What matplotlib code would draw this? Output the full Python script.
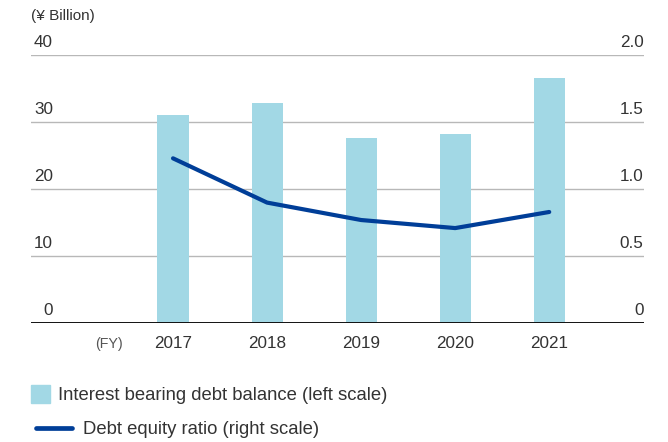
import matplotlib
matplotlib.use("Agg")
import matplotlib.pyplot as plt
from matplotlib.patches import Rectangle
from matplotlib.lines import Line2D
from matplotlib.transforms import ScaledTranslation

plt.rcParams["font.family"] = ["Liberation Sans", "DejaVu Sans"]

YEARS = ["2017", "2018", "2019", "2020", "2021"]
DEBT_BALANCE = [31.0, 32.8, 27.6, 28.2, 36.6]   # ¥ billion, left scale
DE_RATIO = [1.23, 0.90, 0.77, 0.71, 0.83]       # right scale
LEFT_TICKS = [0, 10, 20, 30, 40]
RIGHT_TICKS = ["0", "0.5", "1.0", "1.5", "2.0"]

BAR_C = "#a2d8e5"
LINE_C = "#003e98"
TEXT_C = "#333333"
GRID_C = "#b8b8b8"

fig = plt.figure(figsize=(6.68, 4.42), dpi=100)
ax = fig.add_axes([0.0464, 0.2685, 0.918, 0.607])
x = list(range(len(YEARS)))

ax.bar(x, DEBT_BALANCE, width=0.33, color=BAR_C, zorder=2)
ax.set_xlim(-1.51, 5.01)
ax.set_ylim(0, 40)
for v in LEFT_TICKS[1:]:
    ax.axhline(v, color=GRID_C, lw=1.0, zorder=1)
ax.axhline(0, color="#111111", lw=1.4, zorder=3)
for s in ax.spines.values():
    s.set_visible(False)
ax.set_yticks([])
ax.set_xticks(x)
ax.set_xticklabels(YEARS, fontsize=12.3, color=TEXT_C)
ax.tick_params(axis="x", length=0, pad=9)

up = ScaledTranslation(0, 3.5 / 72, fig.dpi_scale_trans)
for v, rlab in zip(LEFT_TICKS, RIGHT_TICKS):
    ax.text(0.036, v, str(v), transform=ax.get_yaxis_transform() + up,
            ha="right", va="bottom", fontsize=12.3, color=TEXT_C)
    ax.text(0.999, v, rlab, transform=ax.get_yaxis_transform() + up,
            ha="right", va="bottom", fontsize=12.3, color=TEXT_C)

ax2 = ax.twinx()
ax2.set_ylim(0, 2.0)
ax2.plot(x, DE_RATIO, color=LINE_C, lw=3.0, solid_capstyle="round",
         solid_joinstyle="round", zorder=4)
ax2.set_yticks([])
for s in ax2.spines.values():
    s.set_visible(False)

fig.text(31 / 668, 1 - 16 / 442, "(¥ Billion)", fontsize=11, color=TEXT_C,
         ha="left", va="center")
fig.text(108.5 / 668, 1 - 344 / 442, "(FY)", fontsize=10.3, color="#555555",
         ha="center", va="center")

# legend
fig.patches.append(Rectangle((31 / 668, 1 - 403 / 442), 19 / 668, 18 / 442,
                             transform=fig.transFigure, color=BAR_C))
fig.text(58 / 668, 1 - 395 / 442, "Interest bearing debt balance (left scale)",
         fontsize=13.3, color=TEXT_C, ha="left", va="center")
fig.lines.append(Line2D([35.5 / 668, 71.5 / 668], [1 - 428 / 442, 1 - 428 / 442],
                        transform=fig.transFigure, color=LINE_C, lw=3.4,
                        solid_capstyle="round"))
fig.text(83 / 668, 1 - 430 / 442, "Debt equity ratio (right scale)",
         fontsize=13.3, color=TEXT_C, ha="left", va="center")

fig.savefig("out.png", dpi=100)
